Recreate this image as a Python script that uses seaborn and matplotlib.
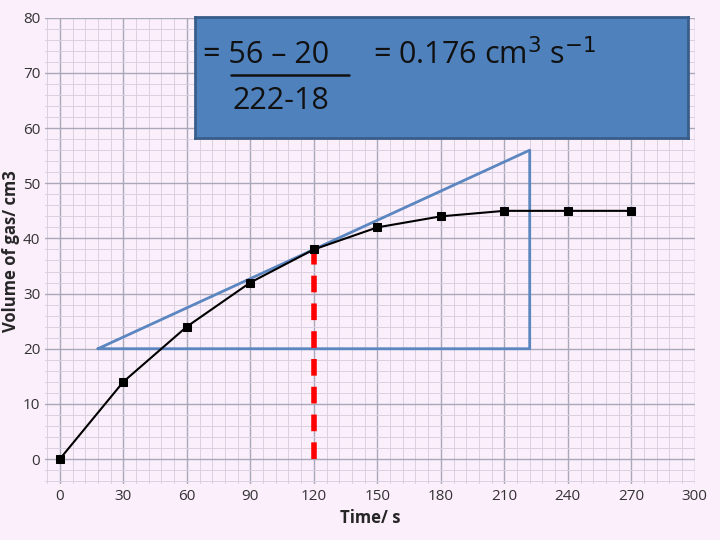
import matplotlib
matplotlib.use("Agg")
import matplotlib.pyplot as plt
import seaborn as sns
import pandas as pd
from matplotlib.ticker import MultipleLocator

time_s = [0, 30, 60, 90, 120, 150, 180, 210, 240, 270]
volume = [0, 14, 24, 32, 38, 42, 44, 45, 45, 45]
tri_x = [18, 222, 222, 18]
tri_y = [20, 56, 20, 20]
bg = "#FCEFFC"

sns.set_theme(style="white")
plt.rcParams['font.family'] = ['Open Sans', 'DejaVu Sans']
fig = plt.figure(figsize=(7.2, 5.4), dpi=100, facecolor=bg)
ax = fig.add_axes([0.0625, 0.104, 0.9025, 0.863], facecolor=bg)
df = pd.DataFrame({"t": time_s, "v": volume})
sns.lineplot(data=df, x="t", y="v", ax=ax, color="black", lw=1.5, marker="s",
             markersize=6, markeredgecolor="black", zorder=5)
ax.plot(tri_x, tri_y, color="#5B86C0", lw=2, zorder=3)
ax.plot([120, 120], [0, 38], color="red", lw=4, ls=(0, (3, 2)), zorder=4)
ax.set_xlim(-7, 300)
ax.set_ylim(-4.5, 80)
ax.xaxis.set_major_locator(MultipleLocator(30))
ax.xaxis.set_minor_locator(MultipleLocator(6))
ax.yaxis.set_major_locator(MultipleLocator(10))
ax.yaxis.set_minor_locator(MultipleLocator(2))
ax.grid(which="major", color="#A8A8B8", lw=1)
ax.grid(which="minor", color="#D8D0E0", lw=0.7)
for s in ax.spines.values():
    s.set_visible(False)
ax.tick_params(length=0, labelsize=11, colors="#333333")
ax.set_xlabel("Time/ s", fontsize=12, fontweight="bold")
ax.set_ylabel("Volume of gas/ cm3", fontsize=12, fontweight="bold", labelpad=2)
box = fig.add_axes([0.271, 0.745, 0.685, 0.224])
box.set_xticks([]); box.set_yticks([])
box.set_xlim(0, 1); box.set_ylim(0, 1)
box.set_facecolor("#4F81BD")
for s in box.spines.values():
    s.set_color("#385D8A"); s.set_linewidth(2)
box.text(0.015, 0.68, "= 56 – 20", fontsize=22, color="#111111", va="center")
box.plot([0.072, 0.312], [0.52, 0.52], color="#111111", lw=1.8)
box.text(0.36, 0.68, "= 0.176 cm$^{3}$ s$^{-1}$", fontsize=22, color="#111111", va="center")
box.text(0.075, 0.3, "222-18", fontsize=22, color="#111111", va="center")
fig.savefig("out.png", facecolor=bg)
